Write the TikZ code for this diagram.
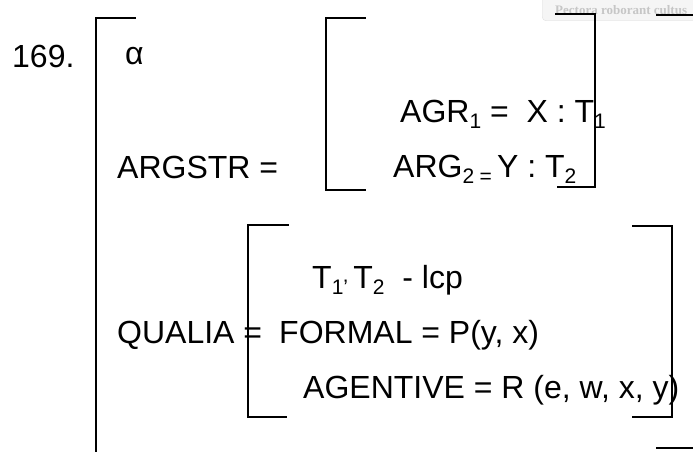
\documentclass[tikz,border=0pt]{standalone}
\usepackage{fontspec}
\setmainfont{Liberation Sans}
\newfontfamily\wmfont{Liberation Serif}
\newcommand{\lsub}[1]{\raisebox{-6pt}{\fontsize{21}{21}\selectfont #1}}
\tikzset{
  txt/.style={anchor=base west, inner sep=0pt, font=\fontsize{32}{38}\selectfont},
  brk/.style={line width=1.6pt, line cap=rect},
  wm/.style={anchor=base west, inner sep=0pt, text=gray!45, font=\wmfont\bfseries\fontsize{13}{15}\selectfont}
}
\begin{document}
\begin{tikzpicture}[x=1pt,y=-1pt]
\useasboundingbox (0,0) rectangle (693,452);
\begin{scope}
\clip (0,0) rectangle (693,452);
% watermark
\node[draw=gray!25, fill=gray!8, rounded corners=4pt, minimum width=170pt, minimum height=30pt, anchor=south west, inner sep=0pt] (wmbox) at (542,21) {};
\end{scope}
\node[wm] (wmtext) at (555,15) {Pectora roborant cultus};
% texts
\node[txt] (num) at (12,67) {169.};
\node[txt] (alpha) at (125,65) {α};
\node[txt] (argstr) at (117,178) {ARGSTR =};
\node[txt] (agr) at (400,122) {AGR\lsub{1} =\ \ X : T\lsub{1}};
\node[txt] (arg) at (393,177) {ARG\lsub{2}\,\raisebox{-6pt}{\fontsize{21}{21}\selectfont =}\,Y : T\lsub{2}};
\node[txt] (lcp) at (312,288) {T\lsub{1'}\,T\lsub{2}\ \ - lcp};
\node[txt] (qualia) at (117,343) {QUALIA =};
\node[txt] (formal) at (279,343) {FORMAL = P(y, x)};
\node[txt] (agentive) at (303,398) {AGENTIVE = R (e, w, x, y)};
% outer bracket
\draw[brk] (135,18) -- (96,18) -- (96,452);
\draw[brk] (657,15) -- (693,15);
\draw[brk] (657,448) -- (693,448);
% ARGSTR bracket
\draw[brk] (365,18) -- (326,18) -- (326,190) -- (365,190);
\draw[brk] (556,14) -- (595,14) -- (595,187) -- (558,187);
% QUALIA bracket
\draw[brk] (288,225) -- (248,225) -- (248,417) -- (286,417);
\draw[brk] (633,226) -- (672,226) -- (672,417) -- (633,417);
\end{tikzpicture}
\end{document}
